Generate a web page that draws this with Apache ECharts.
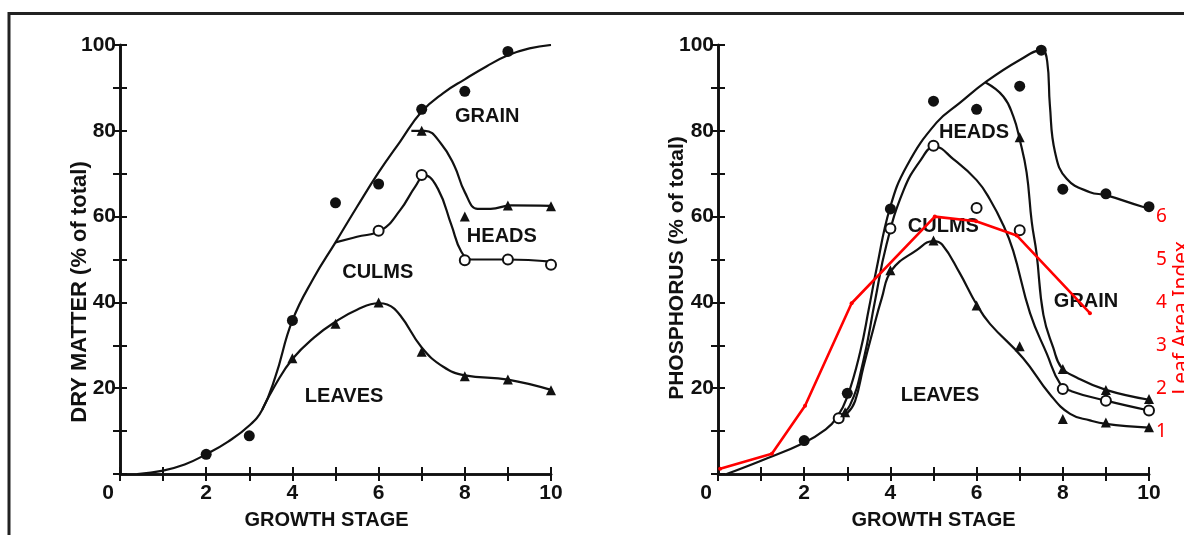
<!DOCTYPE html>
<html><head><meta charset="utf-8">
<script src="https://cdn.jsdelivr.net/npm/echarts@6/dist/echarts.min.js"></script>
<style>html,body{margin:0;padding:0;background:#fff}#c{width:1184px;height:535px}</style>
</head><body><div id="c"></div><script>
// ---------- tick labels ----------
const xTickLabels=[0,2,4,6,8,10];
const yTickLabels=[20,40,60,80,100];
const laiTickLabels=[1,2,3,4,5,6];

// ---------- Left panel: dry matter (% of total) ----------
const dmTotalCurve=[[0.4,0],[1,0.8],[1.5,2.2],[2,4.6],[2.5,7.5],[3,11.3],[3.3,15],[3.6,22.5],[4,35.8],[4.5,45.8],[5,54],[5.5,62.3],[6,70.3],[6.5,77.5],[7,84.5],[7.5,88.8],[8,92],[8.5,95],[9,97.6],[9.5,99.2],[10,100]];
const dmLeavesCurve=[[3.3,15],[3.6,20.7],[4,26.8],[4.5,31.8],[5,35.5],[5.5,38.3],[6,39.8],[6.2,39.5],[6.5,37],[7,29.5],[7.5,25],[8,23],[9,22],[10,19.6]];
const dmCulmsCurve=[[5,54],[5.5,55.3],[6.06,56.8],[6.5,61.5],[6.85,67],[7.07,69.6],[7.38,66.4],[7.69,58],[7.92,51.8],[8.15,50],[9,50],[10,49.5]];
const dmHeadsCurve=[[6.76,80],[7.07,80],[7.45,77],[7.76,71.8],[8.0,65.7],[8.3,61.8],[8.6,61.8],[9.07,62.6],[10,62.5]];
const dmGrainPts=[[2,4.6],[3,8.9],[4,35.8],[5,63.2],[6,67.6],[7,85],[8,89.2],[9,98.5]];
const dmCulmsPts=[[6,56.7],[7,69.7],[8,49.8],[9,50],[10,48.8]];
const dmHeadsPts=[[7,80],[8,60],[9,62.6],[10,62.4]];
const dmLeavesPts=[[4,27],[5,35],[6,40],[7,28.5],[8,22.8],[9,22],[10,19.5]];
const dmRegionNames=['GRAIN','HEADS','CULMS','LEAVES'];
const dmRegionX=[8.52,8.86,5.98,5.2];
const dmRegionY=[83.4,55.3,46.9,18];

// ---------- Right panel: phosphorus (% of total) ----------
const pTotalCurve=[[0.2,0],[1,3.1],[2,7.3],[2.5,10.4],[2.75,13],[3,18],[3.3,28.5],[3.5,38.5],[3.68,47.9],[3.99,62],[4.38,71.8],[5.07,81.9],[5.61,86.5],[6.23,91.5],[7,96.5],[7.51,98.8],[7.64,96],[7.7,86],[7.82,75],[8.09,68.8],[8.63,65.7],[9,65],[9.85,62.3],[10,62]];
const pHeadsCurve=[[6.2,91.3],[6.62,88],[6.85,83.4],[7,78],[7.16,70.3],[7.28,58.7],[7.39,51.5],[7.55,37.1],[7.78,29.4],[7.97,24.8],[8.32,22.5],[9,19.6],[10,17.3]];
const pCulmsCurve=[[2.75,13],[3.06,16],[3.37,26.3],[3.64,40.2],[3.91,53.5],[4.3,66],[4.69,73],[5.03,76.3],[5.46,73.4],[6,68.5],[6.31,64],[6.62,58],[6.85,52],[7.24,37.5],[7.63,28],[7.94,21],[8.2,19.3],[9,17.1],[10,14.8]];
const pLeavesCurve=[[2.75,13],[3,14.2],[3.18,17],[3.37,24.8],[3.57,32.5],[3.8,41],[4.03,47.5],[4.61,52.2],[5,54.3],[5.2,53.5],[5.6,47],[6,39.5],[6.31,35],[7.08,27],[7.7,18.6],[8.17,14],[8.63,12.5],[9,11.7],[10,10.8]];
const pGrainPts=[[2,7.8],[3,18.8],[4,61.8],[5,86.9],[6,85],[7,90.4],[7.5,98.8],[8,66.4],[9,65.3],[10,62.3]];
const pCulmsPts=[[2.8,13],[4,57.2],[5,76.5],[6,62],[7,56.8],[8,19.8],[9,17.1],[10,14.8]];
const pHeadsPts=[[2.95,14.4],[7,78.5],[8,24.5],[9,19.6],[10,17.5]];
const pLeavesPts=[[4,47.5],[5,54.4],[6,39.3],[7,29.8],[8,12.8],[9,12],[10,10.9]];
const pRegionNames=['HEADS','CULMS','LEAVES','GRAIN'];
const pRegionX=[5.94,5.23,5.15,8.54];
const pRegionY=[79.6,57.6,18.3,40.3];

// ---------- Leaf Area Index (red overlay) ----------
const laiX=[0.05,1.25,2.02,3.1,5.03,5.99,6.93,8.63];
const laiY=[0.12,0.47,1.59,3.98,6.0,5.89,5.56,3.75];

// ---------- styles ----------
const INK='#111';
const FONT='"Liberation Sans", Arial, sans-serif';
const lineW=2.6;

function xAxisPair(g){
  return [{
    type:'value',gridIndex:g,min:0,max:10,interval:1,position:'bottom',
    axisLine:{lineStyle:{color:INK,width:lineW}},
    axisTick:{inside:true,length:7,lineStyle:{color:INK,width:2}},
    splitLine:{show:false},
    axisLabel:{color:INK,fontFamily:FONT,fontWeight:'bold',fontSize:21,margin:9,
      formatter:v=>xTickLabels.includes(v)?(v===0?'{z|0}':String(v)):'',
      rich:{z:{color:INK,fontFamily:FONT,fontWeight:'bold',fontSize:21,padding:[0,24,0,0]}}},
    name:'GROWTH STAGE',nameLocation:'middle',nameGap:36,
    nameTextStyle:{color:INK,fontFamily:FONT,fontWeight:'bold',fontSize:20,padding:g===0?[0,18,0,0]:[0,0,0,0]}
  },{
    type:'value',gridIndex:g,min:0,max:10,interval:1,position:'top',
    axisLine:{lineStyle:{color:INK,width:lineW}},
    axisTick:{inside:true,length:7,lineStyle:{color:INK,width:2}},
    axisLabel:{show:false},splitLine:{show:false}
  }];
}
function yLeft(g){
  return {type:'value',gridIndex:g,min:0,max:100,interval:10,position:'left',
    axisLine:{show:true,lineStyle:{color:INK,width:lineW}},
    axisTick:{show:true,inside:true,length:7,lineStyle:{color:INK,width:2}},
    splitLine:{show:false},
    axisLabel:{color:INK,fontFamily:FONT,fontWeight:'bold',fontSize:21,margin:4,
      formatter:v=>yTickLabels.includes(v)?String(v):''}};
}

const xAxes=[...xAxisPair(0),...xAxisPair(1)];
const yAxes=[
  yLeft(0),
  {type:'value',gridIndex:0,min:0,max:100,interval:10,position:'right',
    axisLine:{show:true,lineStyle:{color:INK,width:lineW}},
    axisTick:{show:true,inside:true,length:7,lineStyle:{color:INK,width:2}},
    axisLabel:{show:false},splitLine:{show:false}},
  yLeft(1),
  {type:'value',gridIndex:1,min:0,max:10,interval:1,position:'right',
    axisLine:{show:true,lineStyle:{color:INK,width:lineW}},
    axisTick:{show:true,inside:true,length:7,lineStyle:{color:INK,width:2}},
    splitLine:{show:false},
    axisLabel:{color:'#ff0000',fontFamily:'"Noto Sans", sans-serif',fontSize:19,margin:7,
      formatter:v=>laiTickLabels.includes(v)?String(v):''}}
];

function curve(data,xi,yi){
  return {type:'line',xAxisIndex:xi,yAxisIndex:yi,data:data,smooth:0.45,
    showSymbol:false,symbol:'none',lineStyle:{color:INK,width:2.2},z:3,silent:true};
}
function dots(data,xi,yi,kind){
  const s={type:'scatter',xAxisIndex:xi,yAxisIndex:yi,data:data,z:5,silent:true};
  if(kind==='filled'){s.symbol='circle';s.symbolSize=11;s.itemStyle={color:INK,opacity:1};}
  else if(kind==='open'){s.symbol='circle';s.symbolSize=10;s.itemStyle={color:'#fff',borderColor:INK,borderWidth:2,opacity:1};}
  else {s.symbol='triangle';s.symbolSize=10;s.itemStyle={color:INK,opacity:1};}
  return s;
}
function regionLabels(names,xs,ys,xi,yi){
  return {type:'scatter',xAxisIndex:xi,yAxisIndex:yi,symbolSize:1,itemStyle:{color:'rgba(0,0,0,0)',opacity:1},z:4,silent:true,
    data:names.map((n,i)=>({name:n,value:[xs[i],ys[i]]})),
    label:{show:true,position:'inside',formatter:p=>p.name,color:INK,opacity:1,fontFamily:FONT,fontWeight:'bold',fontSize:20}};
}

const series=[
  curve(dmTotalCurve,0,0),curve(dmLeavesCurve,0,0),curve(dmCulmsCurve,0,0),curve(dmHeadsCurve,0,0),
  dots(dmGrainPts,0,0,'filled'),dots(dmCulmsPts,0,0,'open'),dots(dmHeadsPts,0,0,'tri'),dots(dmLeavesPts,0,0,'tri'),
  regionLabels(dmRegionNames,dmRegionX,dmRegionY,0,0),
  curve(pTotalCurve,2,2),curve(pHeadsCurve,2,2),curve(pCulmsCurve,2,2),curve(pLeavesCurve,2,2),
  dots(pGrainPts,2,2,'filled'),dots(pCulmsPts,2,2,'open'),dots(pHeadsPts,2,2,'tri'),dots(pLeavesPts,2,2,'tri'),
  regionLabels(pRegionNames,pRegionX,pRegionY,2,2),
  {type:'line',xAxisIndex:2,yAxisIndex:3,data:laiX.map((x,i)=>[x,laiY[i]]),smooth:false,
    symbol:'circle',symbolSize:4,showSymbol:true,itemStyle:{color:'#ff0000'},
    lineStyle:{color:'#ff0000',width:2.6},z:8,silent:true}
];

const chart=echarts.init(document.getElementById('c'),null,{renderer:'canvas'});
chart.setOption({
  animation:false,backgroundColor:'#fff',
  grid:[{left:120,top:45,width:431,height:432},{left:718,top:45,width:431,height:432}],
  xAxis:xAxes,yAxis:yAxes,series:series,
  graphic:[
    {type:'line',shape:{x1:8,y1:13.5,x2:1184,y2:13.5},style:{stroke:'#222',lineWidth:3},silent:true},
    {type:'line',shape:{x1:9,y1:12,x2:9,y2:535},style:{stroke:'#222',lineWidth:3},silent:true},
    {type:'text',x:79.5,y:292,rotation:Math.PI/2,silent:true,
      style:{text:'DRY MATTER (% of total)',fill:INK,font:'bold 22px '+FONT,textAlign:'center',textVerticalAlign:'middle'}},
    {type:'text',x:677,y:268,rotation:Math.PI/2,silent:true,
      style:{text:'PHOSPHORUS (% of total)',fill:INK,font:'bold 21px '+FONT,textAlign:'center',textVerticalAlign:'middle'}},
    {type:'text',x:1182,y:318,rotation:Math.PI/2,silent:true,
      style:{text:'Leaf Area Index',fill:'#ff0000',font:'21px "Noto Sans", sans-serif',textAlign:'center',textVerticalAlign:'middle'}}
  ]
});
</script></body></html>
